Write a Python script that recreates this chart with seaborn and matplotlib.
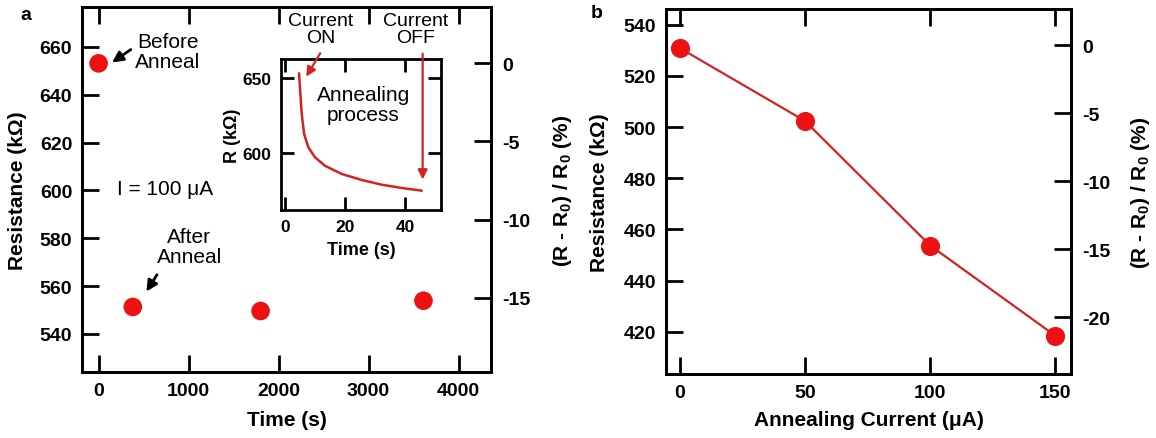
import matplotlib
matplotlib.use("Agg")
import matplotlib.pyplot as plt
import seaborn as sns

# panel a: resistance vs time, I = 100 uA
time_s = [0, 380, 1800, 3610]
res_a = [653.1, 551.3, 549.6, 553.9]

# inset: resistance during the annealing pulse
inset_t = [4.7, 5.0, 5.6, 6.4, 7.8, 10.0, 13.3, 18.9, 25.6, 32.2, 38.9, 45.6]
inset_r = [653.1, 643.8, 626.1, 612.8, 604.0, 597.4, 591.8, 586.3, 582.3, 579.2, 577.0, 575.2]

# panel b: resistance vs annealing current
anneal_current = [0, 50, 100, 150]
res_b = [530.9, 502.4, 453.7, 418.4]
r0_b = 532.0

a_xticks = [0, 1000, 2000, 3000, 4000]
a_yticks = [540, 560, 580, 600, 620, 640, 660]
a_pticks = [0, -5, -10, -15]
b_xticks = [0, 50, 100, 150]
b_yticks = [420, 440, 460, 480, 500, 520, 540]
b_pticks = [0, -5, -10, -15, -20]
in_xticks = [0, 20, 40]
in_yticks = [600, 650]

RED = "#ee1111"
LINE_RED = "#d42222"

sns.set_theme(style="ticks")
plt.rcParams["font.family"] = ["Liberation Sans", "DejaVu Sans"]
plt.rcParams["mathtext.fontset"] = "custom"
plt.rcParams["mathtext.rm"] = "Liberation Sans:bold"
plt.rcParams["mathtext.default"] = "rm"
plt.rcParams["axes.linewidth"] = 2.0
plt.rcParams["axes.edgecolor"] = "black"
plt.rcParams["text.color"] = "black"
plt.rcParams["axes.labelcolor"] = "black"
plt.rcParams["xtick.color"] = "black"
plt.rcParams["ytick.color"] = "black"


def style_axis(ax, size=14, length=12, pad=7):
    ax.tick_params(direction="in", length=length, width=2, colors="black",
                   labelsize=size, pad=pad)
    for lab in ax.get_xticklabels() + ax.get_yticklabels():
        lab.set_fontweight("bold")


def add_percent_axis(ax, r0, ticks, xcoord):
    tw = ax.twinx()
    lo, hi = ax.get_ylim()
    tw.set_ylim((lo - r0) / r0 * 100, (hi - r0) / r0 * 100)
    tw.set_yticks(ticks)
    tw.set_yticklabels([str(t) for t in ticks])
    style_axis(tw, pad=8)
    tw.set_ylabel("(R - R$_0$) / R$_0$ (%)", fontsize=15, fontweight="bold")
    tw.yaxis.set_label_coords(xcoord, 0.5)
    tw.set_facecolor("none")
    return tw


fig = plt.figure(figsize=(11.56, 4.39), dpi=100)

# ---------------- panel a ----------------
ax = fig.add_axes([0.0709, 0.1503, 0.3538, 0.8312])
sns.scatterplot(x=time_s, y=res_a, ax=ax, s=180, color=RED, edgecolor="none", zorder=5)
ax.set_xlim(-185, 4360)
ax.set_ylim(524.1, 676.6)
ax.set_xticks(a_xticks)
ax.set_yticks(a_yticks)
ax.tick_params(top=True)
style_axis(ax)
ax.set_xlabel("Time (s)", fontsize=15, fontweight="bold")
ax.set_ylabel("Resistance (k\u03a9)", fontsize=15, fontweight="bold")
ax.xaxis.set_label_coords(0.5, -0.105)
ax.yaxis.set_label_coords(-0.134, 0.5)
add_percent_axis(ax, res_a[0], a_pticks, 1.148)

tkw = dict(transform=ax.transAxes, ha="center", va="center", fontsize=15,
           linespacing=1.05)
ax.text(0.210, 0.878, "Before\nAnneal", **tkw)
ax.text(0.203, 0.504, "I = 100 \u03bcA", **tkw)
ax.text(0.262, 0.344, "After\nAnneal", **tkw)
ckw = dict(transform=ax.transAxes, ha="center", va="center", fontsize=14,
           linespacing=1.05)
ax.text(0.584, 0.940, "Current\nON", **ckw)
ax.text(0.815, 0.940, "Current\nOFF", **ckw)

# ---------------- inset ----------------
axin = fig.add_axes([0.2431, 0.5201, 0.1381, 0.3433])
axin.set_facecolor("none")
sns.lineplot(x=inset_t, y=inset_r, ax=axin, color=LINE_RED, lw=1.8)
axin.set_xlim(-1.3, 51.9)
axin.set_ylim(562.6, 662.6)
axin.set_xticks(in_xticks)
axin.set_yticks(in_yticks)
axin.tick_params(top=True, right=True)
style_axis(axin, size=12.5, length=9.5, pad=7)
axin.set_xlabel("Time (s)", fontsize=13, fontweight="bold")
axin.set_ylabel("R (k\u03a9)", fontsize=13, fontweight="bold")
axin.xaxis.set_label_coords(0.5, -0.205)
axin.yaxis.set_label_coords(-0.25, 0.5)
axin.text(0.515, 0.70, "Annealing\nprocess", transform=axin.transAxes,
          ha="center", va="center", fontsize=15, linespacing=1.05)

# arrows drawn on top of the inset, positioned in panel-a axes fraction
akw = dict(xycoords=ax.transAxes, textcoords=ax.transAxes, annotation_clip=False)
black_arrow = dict(arrowstyle="-|>", color="black", lw=2, mutation_scale=16)
red_arrow = dict(arrowstyle="-|>", color=LINE_RED, lw=1.6, mutation_scale=14)
axin.annotate("", xy=(0.068, 0.844), xytext=(0.125, 0.888), arrowprops=black_arrow, **akw)
axin.annotate("", xy=(0.154, 0.214), xytext=(0.187, 0.273), arrowprops=black_arrow, **akw)
axin.annotate("", xy=(0.545, 0.803), xytext=(0.586, 0.880), arrowprops=red_arrow, **akw)
axin.annotate("", xy=(0.833, 0.520), xytext=(0.833, 0.880), arrowprops=red_arrow, **akw)

# ---------------- panel b ----------------
bx = fig.add_axes([0.5761, 0.1458, 0.3504, 0.8314])
sns.lineplot(x=anneal_current, y=res_b, ax=bx, color=LINE_RED, lw=1.6,
             marker="o", markersize=13, markerfacecolor=RED, markeredgecolor=RED)
bx.set_xlim(-5.4, 156.2)
bx.set_ylim(403.5, 546.1)
bx.set_xticks(b_xticks)
bx.set_yticks(b_yticks)
bx.tick_params(top=True)
style_axis(bx)
bx.set_xlabel("Annealing Current (\u03bcA)", fontsize=15, fontweight="bold")
bx.set_ylabel("Resistance (k\u03a9)", fontsize=15, fontweight="bold")
bx.xaxis.set_label_coords(0.5, -0.10)
bx.yaxis.set_label_coords(-0.14, 0.5)
add_percent_axis(bx, r0_b, b_pticks, 1.142)

fig.text(26 / 1156, 1 - 15 / 439, "a", fontsize=14, fontweight="bold", ha="center", va="center")
fig.text(597 / 1156, 1 - 14 / 439, "b", fontsize=14, fontweight="bold", ha="center", va="center")

fig.savefig("out.png", dpi=100)
